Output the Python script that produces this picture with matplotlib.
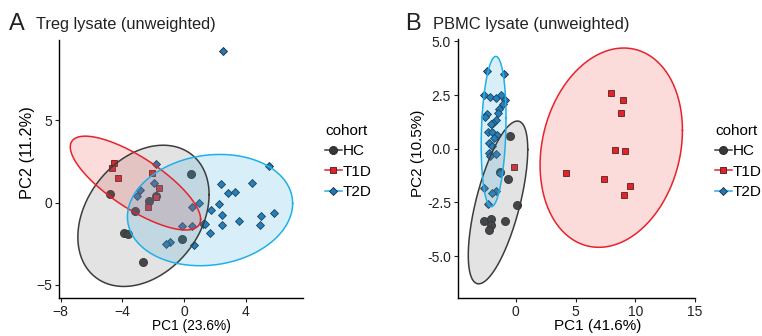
import numpy as np
import matplotlib
matplotlib.use('Agg')
import matplotlib.pyplot as plt
from matplotlib.lines import Line2D

plt.rcParams['font.family'] = ['Liberation Sans', 'DejaVu Sans']

# ---- data ----
groups = ['HC', 'T1D', 'T2D']

# panel A: Treg lysate
a_hc_x = [-4.81, -3.19, -2.28, -1.85, 0.43, -3.90, -3.62, -0.13, -2.67]
a_hc_y = [0.53, -0.53, 0.12, 0.38, 1.72, -1.88, -1.92, -2.19, -3.64]
a_t1d_x = [-4.57, -4.68, -4.31, -2.07, -1.64, -1.81, -2.33]
a_t1d_y = [2.37, 2.11, 1.50, 1.82, 0.91, 0.32, -0.30]
a_t2d_x = [2.50, 5.52, -1.81, -1.94, -2.87, -3.06, 2.37, 4.42, 2.82, 3.32,
           0.99, 2.28, 0.50, 1.72, 2.48, 4.98, 5.82, 3.58, -0.13, 0.50,
           1.21, 1.34, 2.46, 4.89, 1.66, -0.93, -1.16, 0.63]
a_t2d_y = [9.21, 2.23, 2.33, 1.20, 0.77, 0.41, 1.11, 1.17, 0.55, 0.61,
           -0.06, -0.10, -0.26, -0.43, -0.73, -0.79, -0.63, -1.11, -1.40, -1.40,
           -1.32, -1.32, -1.34, -1.38, -1.85, -2.37, -2.53, -2.57]
# ellipses: centre x, centre y, sd x, sd y, correlation
a_ell_hc = [-2.63, -0.81, 4.25, 4.29, 0.30]
a_ell_t1d = [-3.15, 1.18, 4.22, 2.85, -0.77]
a_ell_t2d = [1.68, -0.46, 5.35, 3.38, 0.12]

# panel B: PBMC lysate
b_hc_x = [-0.51, -1.29, -0.66, 0.12, -2.67, -2.09, -2.09, -2.23, -0.93]
b_hc_y = [0.59, -1.07, -1.40, -2.64, -3.35, -3.26, -3.57, -3.79, -3.37]
b_t1d_x = [8.00, 8.97, 8.84, 8.34, 9.12, 4.19, 7.42, 9.60, 9.08, -0.18]
b_t1d_y = [2.59, 2.28, 1.67, -0.06, -0.09, -1.13, -1.42, -1.72, -2.14, -0.85]
b_t2d_x = [-2.45, -0.99, -2.67, -2.12, -1.70, -1.20, -0.87, -1.10, -1.40, -2.40,
           -2.59, -1.49, -1.62, -1.90, -2.09, -2.34, -1.98, -1.54, -1.82, -2.23,
           -2.03, -1.62, -2.28, -2.12, -1.34, -2.67, -1.70, -1.98, -2.37]
b_t2d_y = [3.63, 3.49, 2.51, 2.43, 2.38, 2.48, 2.28, 2.08, 1.86, 1.61,
           1.50, 1.68, 1.34, 1.22, 1.16, 0.80, 0.77, 0.64, 0.49, 0.28,
           0.13, -0.24, -0.21, -0.34, -1.12, -1.82, -1.96, -2.05, -2.59]
b_ell_hc = [-1.49, -2.50, 2.49, 3.79, 0.65]
b_ell_t1d = [7.99, 0.05, 5.96, 4.64, 0.175]
b_ell_t2d = [-1.86, 0.80, 1.04, 3.50, 0.18]

# ---- styles ----
pt_face = {'HC': '#34373b', 'T1D': '#e3212a', 'T2D': '#2476b5'}
pt_edge = {'HC': '#222222', 'T1D': '#3a2020', 'T2D': '#1b2a3a'}
pt_mark = {'HC': 'o', 'T1D': 's', 'T2D': 'D'}
pt_size = {'HC': 5.8, 'T1D': 4.6, 'T2D': 4.4}
el_line = {'HC': '#3c3c3c', 'T1D': '#e8222b', 'T2D': '#1fb0e8'}
el_fill = {'HC': '#808080', 'T1D': '#ee2a2a', 'T2D': '#29abe2'}
el_alpha = {'HC': 0.22, 'T1D': 0.17, 'T2D': 0.18}


def draw_ellipse(ax, p, g):
    cx, cy, sx, sy, r = p
    t = np.linspace(0, 2 * np.pi, 300)
    ex = cx + sx * np.cos(t)
    ey = cy + sy * (r * np.cos(t) + np.sqrt(1 - r ** 2) * np.sin(t))
    ax.fill(ex, ey, color=el_fill[g], alpha=el_alpha[g], lw=0, zorder=3)
    ax.plot(ex, ey, color=el_line[g], lw=1.1, zorder=4)


def panel(ax, pts, ells):
    for g in groups:
        x, y = pts[g]
        ax.plot(x, y, ls='none', marker=pt_mark[g], ms=pt_size[g],
                mfc=pt_face[g], mec=pt_edge[g], mew=0.6, zorder=2)
    for g in groups:
        draw_ellipse(ax, ells[g], g)
    for s in ['top', 'right']:
        ax.spines[s].set_visible(False)
    for s in ['left', 'bottom']:
        ax.spines[s].set_linewidth(1.0)
    ax.tick_params(direction='out', length=3, width=0.8, labelsize=10,
                   colors='#222222', pad=2)


def add_legend(ax, x, y):
    handles = [Line2D([0], [0], color=el_line[g], lw=1.1, marker=pt_mark[g],
                      ms=pt_size[g], mfc=pt_face[g], mec=pt_edge[g], mew=0.6)
               for g in groups]
    leg = ax.legend(handles, groups, title='cohort', loc='upper left',
                    bbox_to_anchor=(x / 762, 1 - y / 336),
                    bbox_transform=ax.figure.transFigure, frameon=False,
                    fontsize=11, title_fontsize=11, handlelength=1.1,
                    handletextpad=0.05, labelspacing=0.42, borderpad=0,
                    borderaxespad=0, alignment='left')
    return leg


def place_labels(ax, xl, yl, fsx, fsy, xc, yc):
    ax.set_xlabel(xl, fontsize=fsx)
    ax.set_ylabel(yl, fontsize=fsy)
    ax.xaxis.set_label_coords(xc[0], xc[1])
    ax.yaxis.set_label_coords(yc[0], yc[1])
    ax.xaxis.label.set_va('center')
    ax.yaxis.label.set_va('center')


fig = plt.figure(figsize=(7.62, 3.36), dpi=100)

axA = fig.add_axes([59 / 762, 38 / 336, 244 / 762, 258 / 336])
panel(axA, {'HC': (a_hc_x, a_hc_y), 'T1D': (a_t1d_x, a_t1d_y),
            'T2D': (a_t2d_x, a_t2d_y)},
      {'HC': a_ell_hc, 'T1D': a_ell_t1d, 'T2D': a_ell_t2d})
axA.set(xlim=(-8.1, 7.7), ylim=(-5.8, 9.87))
axA.set_xticks([-8, -4, 0, 4])
axA.set_yticks([-5, 0, 5])
place_labels(axA, 'PC1 (23.6%)', 'PC2 (11.2%)', 9.9, 11.8,
             (0.541, -0.109), (-0.13, 0.562))
add_legend(axA, 325, 124)

axB = fig.add_axes([458 / 762, 38 / 336, 237 / 762, 259 / 336])
panel(axB, {'HC': (b_hc_x, b_hc_y), 'T1D': (b_t1d_x, b_t1d_y),
            'T2D': (b_t2d_x, b_t2d_y)},
      {'HC': b_ell_hc, 'T1D': b_ell_t1d, 'T2D': b_ell_t2d})
axB.set(xlim=(-4.84, 14.9), ylim=(-6.95, 5.11))
axB.set_xticks([0, 5, 10, 15])
axB.set_yticks([-5.0, -2.5, 0.0, 2.5, 5.0])
axB.set_yticklabels(['-5.0', '-2.5', '0.0', '2.5', '5.0'])
place_labels(axB, 'PC1 (41.6%)', 'PC2 (10.5%)', 11, 11,
             (0.589, -0.11), (-0.169, 0.558))
add_legend(axB, 715, 124)

fig.text(9 / 762, 1 - 30 / 336, 'A', fontsize=17, color='#222222')
fig.text(36 / 762, 1 - 29 / 336, 'Treg lysate (unweighted)', fontsize=11.8,
         color='#222222')
fig.text(405 / 762, 1 - 30 / 336, 'B', fontsize=17, color='#222222')
fig.text(433 / 762, 1 - 29 / 336, 'PBMC lysate (unweighted)', fontsize=11.9,
         color='#222222')

fig.savefig('out.png', dpi=100)
